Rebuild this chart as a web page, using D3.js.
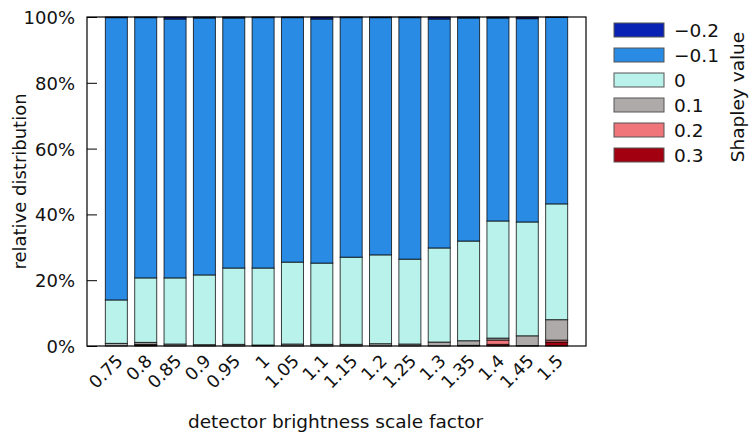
<!DOCTYPE html>
<html>
<head>
<meta charset="utf-8">
<script src="https://cdn.jsdelivr.net/npm/d3@7"></script>
<style>
  body { margin: 0; background: #fff; }
  text { font-family: "DejaVu Sans", sans-serif; fill: #111; }
</style>
</head>
<body>
<div id="chart"></div>
<script>
// Stacked relative distribution of Shapley values per brightness factor

const categories = ['0.75', '0.8', '0.85', '0.9', '0.95', '1', '1.05', '1.1', '1.15', '1.2', '1.25', '1.3', '1.35', '1.4', '1.45', '1.5'];
const seriesKeys = ['0.3', '0.2', '0.1', '0', '-0.1', '-0.2'];   // stacking order, bottom to top
const legendLabels = ['\u22120.2', '\u22120.1', '0', '0.1', '0.2', '0.3'];

// percentages
const v03  = [0.0, 0.3, 0.0, 0.0, 0.0, 0.0, 0.0, 0.0, 0.0, 0.0, 0.0, 0.0, 0.0, 0.5, 0.0, 1.2];
const v02  = [0.0, 0.2, 0.0, 0.0, 0.0, 0.0, 0.0, 0.0, 0.0, 0.0, 0.0, 0.0, 0.2, 1.3, 0.1, 0.6];
const v01  = [0.8, 0.6, 0.6, 0.4, 0.5, 0.3, 0.6, 0.5, 0.5, 0.7, 0.6, 1.2, 1.4, 0.6, 3.0, 6.2];
const v0   = [13.2, 19.6, 20.1, 21.2, 23.2, 23.4, 24.9, 24.7, 26.5, 27.0, 25.8, 28.6, 30.3, 35.6, 34.6, 35.2];
const vm02 = [0.2, 0.2, 0.6, 0.3, 0.3, 0.2, 0.2, 0.6, 0.2, 0.2, 0.2, 0.6, 0.3, 0.3, 0.5, 0.1];
const yTicks = [0, 20, 40, 60, 80, 100];

const colors = {
  '-0.2': '#0a22b4',
  '-0.1': '#2a8be4',
  '0': '#b9f2ea',
  '0.1': '#aeaaaa',
  '0.2': '#f0757b',
  '0.3': '#a20010'
};
const legendKeys = ['-0.2', '-0.1', '0', '0.1', '0.2', '0.3'];

const rows = categories.map((c, i) => {
  const r = { cat: c, '0.3': v03[i], '0.2': v02[i], '0.1': v01[i], '0': v0[i], '-0.2': vm02[i] };
  r['-0.1'] = 100 - v03[i] - v02[i] - v01[i] - v0[i] - vm02[i];
  return r;
});

const width = 750, height = 433;
const margin = { left: 87, right: 164, top: 17, bottom: 87 };
const plotW = width - margin.left - margin.right;
const plotH = height - margin.top - margin.bottom;

const svg = d3.select('#chart').append('svg')
  .attr('width', width)
  .attr('height', height);

const g = svg.append('g').attr('transform', `translate(${margin.left},${margin.top})`);

// x positions: gnuplot style range -1 .. n
const x = d3.scaleLinear().domain([-1, categories.length]).range([0, plotW]);
const y = d3.scaleLinear().domain([0, 100]).range([plotH, 0]);
const step = x(1) - x(0);
const barW = step * 0.75;

const stacked = d3.stack().keys(seriesKeys)(rows);

g.append('g').selectAll('g')
  .data(stacked)
  .join('g')
  .attr('fill', d => colors[d.key])
  .selectAll('rect')
  .data(d => d)
  .join('rect')
  .attr('x', (d, i) => x(i) - barW / 2)
  .attr('width', barW)
  .attr('y', d => y(d[1]))
  .attr('height', d => Math.max(0, y(d[0]) - y(d[1])))
  .attr('stroke', '#000')
  .attr('stroke-width', 1)
  .attr('stroke-opacity', 0.75);

// frame
g.append('rect')
  .attr('x', 0).attr('y', 0)
  .attr('width', plotW).attr('height', plotH)
  .attr('fill', 'none')
  .attr('stroke', '#000')
  .attr('stroke-width', 1.2);

// y axis
const yAxis = g.append('g')
  .call(d3.axisLeft(y).tickValues(yTicks).tickSize(-10).tickFormat(d => d + '%'));
yAxis.select('.domain').remove();
yAxis.selectAll('line').attr('stroke', '#000');
yAxis.selectAll('text')
  .attr('x', -12)
  .attr('dy', '0.36em')
  .style('font-size', '18px')
  .style('font-family', '"DejaVu Sans", sans-serif');

// x axis
const xAxis = g.append('g')
  .attr('transform', `translate(0,${plotH})`)
  .call(d3.axisBottom(x).tickValues(d3.range(categories.length)).tickSize(0).tickFormat(i => categories[i]));
xAxis.select('.domain').remove();
xAxis.selectAll('text')
  .attr('text-anchor', 'end')
  .attr('dy', null)
  .attr('y', 0)
  .attr('transform', 'translate(-2,7) rotate(-45)')
  .attr('dominant-baseline', 'hanging')
  .style('font-size', '17.5px')
  .style('font-family', '"DejaVu Sans", sans-serif');

// axis titles
svg.append('text')
  .attr('x', margin.left + plotW / 2 - 1)
  .attr('y', 428)
  .attr('text-anchor', 'middle')
  .style('font-size', '18.5px')
  .text('detector brightness scale factor');

svg.append('text')
  .attr('transform', `translate(26,${margin.top + plotH / 2}) rotate(-90)`)
  .attr('text-anchor', 'middle')
  .style('font-size', '18px')
  .text('relative distribution');

// legend
const legend = svg.append('g').attr('transform', 'translate(614,23)');
legendKeys.forEach((k, i) => {
  const row = legend.append('g').attr('transform', `translate(0,${i * 25})`);
  row.append('rect')
    .attr('width', 50).attr('height', 14)
    .attr('fill', colors[k])
    .attr('stroke', '#555')
    .attr('stroke-width', 1);
  row.append('text')
    .attr('x', 60).attr('y', 7)
    .attr('dy', '0.36em')
    .style('font-size', '18.5px')
    .text(legendLabels[i]);
});

svg.append('text')
  .attr('transform', 'translate(744,97) rotate(-90)')
  .attr('text-anchor', 'middle')
  .style('font-size', '18.5px')
  .text('Shapley value');
</script>
</body>
</html>
